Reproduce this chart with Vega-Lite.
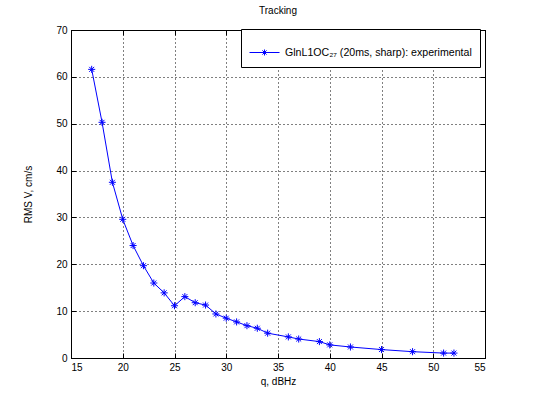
{
  "$schema": "https://vega.github.io/schema/vega-lite/v6.json",
  "width": 414,
  "height": 328,
  "autosize": {"type": "none"},
  "padding": {"left": 71, "top": 30, "right": 51, "bottom": 44},
  "background": "white",
  "title": {"text": "Tracking", "fontSize": 10, "fontWeight": "normal", "font": "Liberation Sans", "color": "black", "offset": 9},
  "config": {
    "view": {"stroke": "black", "strokeWidth": 1},
    "axis": {
      "domainColor": "black",
      "tickColor": "black",
      "labelColor": "black",
      "labelFont": "Liberation Sans",
      "labelFontSize": 10,
      "titleFont": "Liberation Sans",
      "titleFontSize": 10,
      "titleFontWeight": "normal",
      "titleColor": "black",
      "tickSize": -5,
      "gridColor": "black",
      "gridOpacity": 1,
      "gridDash": [1, 3],
      "gridWidth": 1
    }
  },
  "data": {
    "values": [
      {"q": 17, "v": 61.6},
      {"q": 18, "v": 50.3},
      {"q": 19, "v": 37.5},
      {"q": 20, "v": 29.6},
      {"q": 21, "v": 24.0},
      {"q": 22, "v": 19.7},
      {"q": 23, "v": 16.0},
      {"q": 24, "v": 13.9},
      {"q": 25, "v": 11.15},
      {"q": 26, "v": 13.1},
      {"q": 27, "v": 11.8},
      {"q": 28, "v": 11.3},
      {"q": 29, "v": 9.4},
      {"q": 30, "v": 8.5},
      {"q": 31, "v": 7.7},
      {"q": 32, "v": 6.9},
      {"q": 33, "v": 6.35},
      {"q": 34, "v": 5.3},
      {"q": 36, "v": 4.5},
      {"q": 37, "v": 4.05},
      {"q": 39, "v": 3.5},
      {"q": 40, "v": 2.8},
      {"q": 42, "v": 2.35},
      {"q": 45, "v": 1.8},
      {"q": 48, "v": 1.35},
      {"q": 51, "v": 1.05},
      {"q": 52, "v": 1.05}
    ]
  },
  "resolve": {"axis": {"x": "independent", "y": "independent"}},
  "layer": [
    {
      "mark": {"type": "line", "strokeWidth": 1},
      "encoding": {
        "x": {"field": "q", "type": "quantitative", "scale": {"domain": [15, 55], "nice": false},
              "axis": {"title": "q, dBHz", "values": [15, 20, 25, 30, 35, 40, 45, 50, 55], "labelPadding": 9, "titlePadding": 4, "grid": true}},
        "y": {"field": "v", "type": "quantitative", "scale": {"domain": [0, 70], "nice": false},
              "axis": {"title": "RMS V, cm/s", "values": [0, 10, 20, 30, 40, 50, 60, 70], "labelPadding": 9, "titlePadding": 22, "grid": true}},
        "color": {
          "datum": "GlnL1OC₂₇ (20ms, sharp): experimental",
          "type": "nominal",
          "scale": {"range": ["blue"]},
          "legend": {
            "title": null,
            "orient": "none",
            "legendX": 170,
            "legendY": -1,
            "fillColor": "white",
            "strokeColor": "black",
            "padding": 8,
            "symbolType": "M-1,0L1,0M0,-0.2L0,0.2M-0.14,-0.14L0.14,0.14M-0.14,0.14L0.14,-0.14",
            "symbolSize": 900,
            "symbolStrokeWidth": 1,
            "symbolStrokeColor": "blue",
            "symbolFillColor": "transparent",
            "labelFont": "Liberation Sans",
            "labelFontSize": 10.6,
            "labelColor": "black",
            "labelOffset": 5,
            "labelLimit": 0
          }
        }
      }
    },
    {
      "mark": {"type": "point", "shape": "M-1,0L1,0M0,-1L0,1M-0.7,-0.7L0.7,0.7M-0.7,0.7L0.7,-0.7", "filled": false, "size": 50, "strokeWidth": 1, "color": "blue", "opacity": 1},
      "encoding": {
        "x": {"field": "q", "type": "quantitative", "axis": null},
        "y": {"field": "v", "type": "quantitative", "axis": null}
      }
    },
    {
      "mark": {"type": "point", "opacity": 0},
      "encoding": {
        "x": {"field": "q", "type": "quantitative", "axis": {"orient": "top", "labels": false, "title": null, "grid": false, "values": [15, 20, 25, 30, 35, 40, 45, 50, 55]}},
        "y": {"field": "v", "type": "quantitative", "axis": {"orient": "right", "labels": false, "title": null, "grid": false, "values": [0, 10, 20, 30, 40, 50, 60, 70]}}
      }
    }
  ]
}
